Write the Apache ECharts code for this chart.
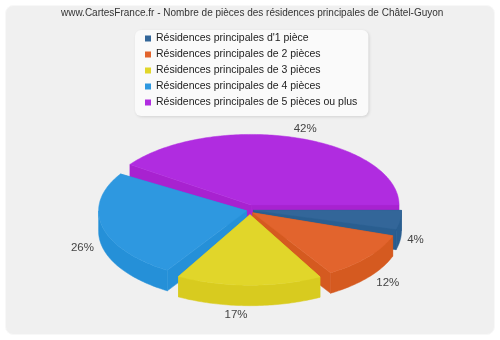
<!DOCTYPE html>
<html><head><meta charset="utf-8">
<script src="https://cdn.jsdelivr.net/npm/echarts@6/dist/echarts.min.js"></script>
<style>html,body{margin:0;padding:0;background:#fff}#c{width:500px;height:340px}</style>
</head><body><div id="c"></div>
<script>
const categories=["Résidences principales d'1 pièce","Résidences principales de 2 pièces","Résidences principales de 3 pièces","Résidences principales de 4 pièces","Résidences principales de 5 pièces ou plus"];
const values=[4,12,17,26,42];
const topColors=['#336699','#E2642D','#E1D62A','#2E98E0','#B02CE0'];
const sideColors=['#2A5E90','#D55A20','#D8CB1F','#2590D8','#A822D0'];
const drawOrder=[4,0,3,1,2];
const labelNudge=[[-3,-2],[5,0],[-13,0],[-2,-2],[4,0]];
const titleText='www.CartesFrance.fr - Nombre de pièces des résidences principales de Châtel-Guyon';

const FONT='"Liberation Sans"';
const cx=250,cy=209.7,rx=148,ry=70.5,depth=20.5,explodeX=3.5,explodeY=5,labelRx=170,labelRy=85,inset=1.75,rot=3;
const total=values.reduce((a,b)=>a+b,0);
const sweep=values.map(v=>v/total*360);
const starts=[];let acc=0;sweep.forEach(s=>{starts.push(acc);acc+=s;});
const rad=d=>d*Math.PI/180;

function sliceGeom(i){
  const c0=i===0?0:starts[i]+inset+rot;
  const c1=i===values.length-1?360:starts[i]+sweep[i]-inset+rot;
  const a0=-c0,a1=-c1,mid=(a0+a1)/2;
  const ox=cx+explodeX*Math.cos(rad(mid)),oy=cy-explodeY*Math.sin(rad(mid));
  const pt=(a,dy)=>[ox+rx*Math.cos(rad(a)),oy-ry*Math.sin(rad(a))+(dy||0)];
  return {a0,a1,mid,ox,oy,pt};
}
function renderSlice(i){
  return function(){
    const g=sliceGeom(i),kids=[];
    const top=[[g.ox,g.oy]];
    const n=Math.ceil(Math.abs(g.a1-g.a0));
    for(let k=0;k<=n;k++)top.push(g.pt(g.a0+(g.a1-g.a0)*k/n));
    const sideStyle={fill:sideColors[i],stroke:sideColors[i],lineWidth:0.5};
    [g.a0,g.a1].forEach(a=>{
      const p=g.pt(a);
      kids.push({type:'polygon',shape:{points:[[g.ox,g.oy],p,[p[0],p[1]+depth],[g.ox,g.oy+depth]]},style:sideStyle});
    });
    const rim=[],rimB=[];
    for(let k=0;k<=n;k++){
      const a=g.a0+(g.a1-g.a0)*k/n,norm=((a%360)+360)%360;
      if(norm>=180||norm===0){rim.push(g.pt(a));rimB.unshift(g.pt(a,depth));}
    }
    if(rim.length>1)kids.push({type:'polygon',shape:{points:rim.concat(rimB)},style:sideStyle});
    kids.push({type:'polygon',shape:{points:top},style:{fill:topColors[i],stroke:topColors[i],lineWidth:0.5}});
    return {type:'group',children:kids};
  };
}
function renderLabel(i){
  const g=sliceGeom(i),a=rad(g.mid),s=Math.sin(a);
  return {type:'text',style:{text:values[i]+'%',x:cx+labelRx*Math.cos(a)+labelNudge[i][0],y:cy-labelRy*s+(s<0?depth:0)+labelNudge[i][1],
    align:'center',verticalAlign:'middle',fill:'#444',font:'11.5px '+FONT}};
}
const series=drawOrder.map(i=>({type:'custom',name:categories[i],coordinateSystem:'none',silent:true,animation:false,
  data:[[values[i]]],itemStyle:{color:topColors[i]},renderItem:renderSlice(i)}));
series.push({type:'custom',name:'labels',coordinateSystem:'none',silent:true,animation:false,z:5,
  data:values.map((v,i)=>[v,i]),renderItem:(p,api)=>renderLabel(api.value(1))});

const chart=echarts.init(document.getElementById('c'),null,{renderer:'canvas'});
chart.setOption({
  backgroundColor:'#fff',animation:false,
  title:{text:titleText,left:56,top:3,textStyle:{fontFamily:'Liberation Sans',fontSize:10,fontWeight:'normal',color:'#333'}},
  graphic:[{type:'rect',silent:true,z:-10,shape:{x:5.5,y:5.5,width:489,height:329,r:8},style:{fill:'#F0F0F0',stroke:'#F8F8F8',lineWidth:1}}],
  legend:{orient:'vertical',left:135,top:30,padding:[3,11,8,10],itemWidth:6,itemHeight:6,itemGap:5,icon:'rect',
    data:categories,selectedMode:false,backgroundColor:'#FAFAFA',borderRadius:6,shadowColor:'rgba(0,0,0,0.12)',shadowBlur:3,shadowOffsetX:1,shadowOffsetY:1,
    textStyle:{fontFamily:'Liberation Sans',fontSize:10.5,lineHeight:11,color:'#222'}},
  series
});
</script></body></html>
